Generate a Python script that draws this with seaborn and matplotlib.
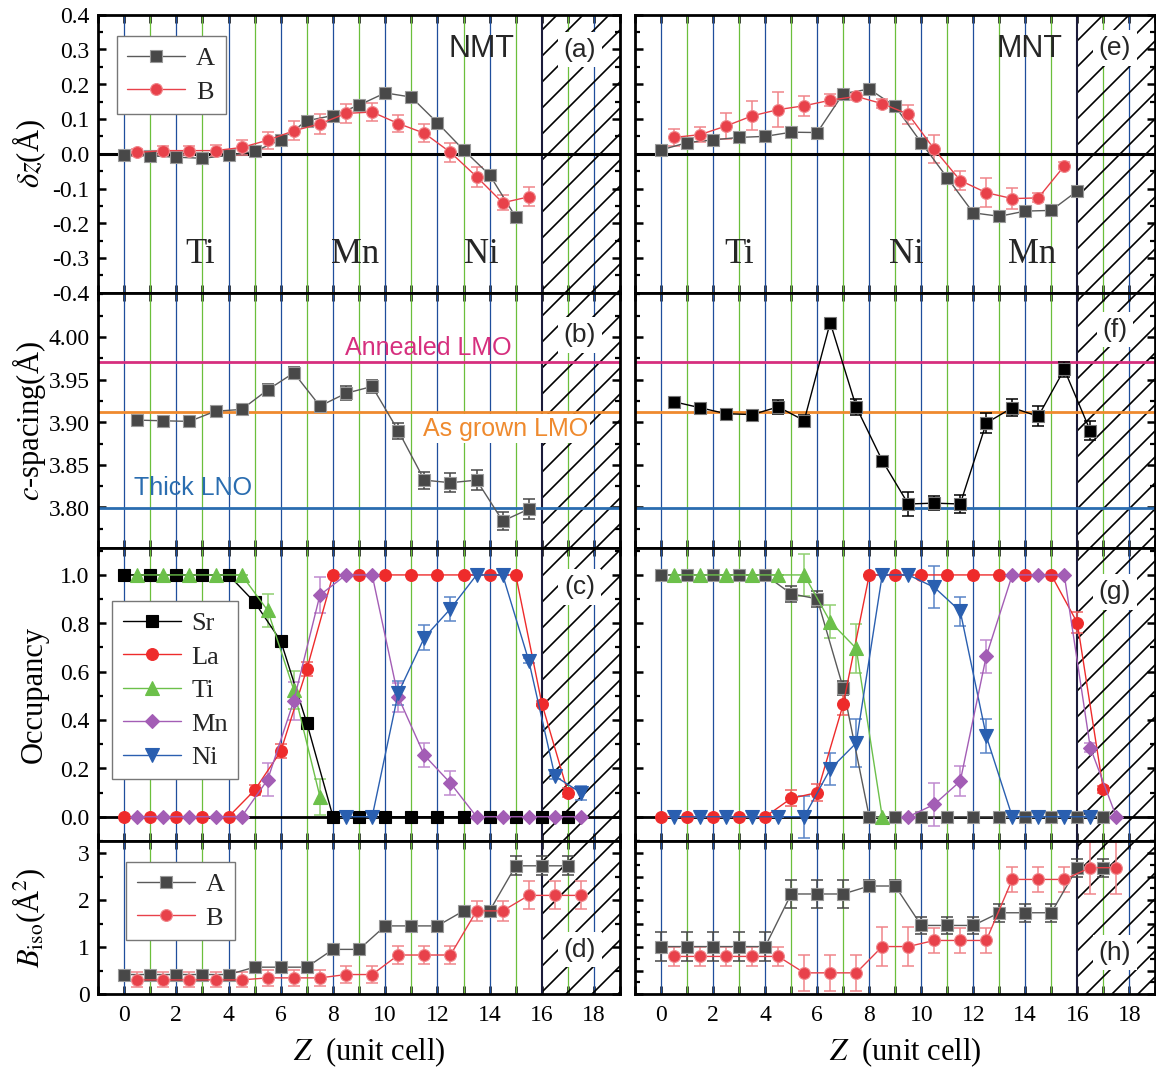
import matplotlib
matplotlib.use("Agg")
import pandas as pd
import seaborn as sns
from matplotlib import pyplot as plt
from matplotlib.ticker import MultipleLocator, FixedLocator, FormatStrFormatter

# ---------------- data ----------------
z_0_15 = [0, 1, 2, 3, 4, 5, 6, 7, 8, 9, 10, 11, 12, 13, 14, 15]
z_0_16 = [0, 1, 2, 3, 4, 5, 6, 7, 8, 9, 10, 11, 12, 13, 14, 15, 16]
z_0_17 = [0, 1, 2, 3, 4, 5, 6, 7, 8, 9, 10, 11, 12, 13, 14, 15, 16, 17]
zh_0_15 = [0.5, 1.5, 2.5, 3.5, 4.5, 5.5, 6.5, 7.5, 8.5, 9.5, 10.5, 11.5, 12.5, 13.5, 14.5, 15.5]
zh_0_16 = [0.5, 1.5, 2.5, 3.5, 4.5, 5.5, 6.5, 7.5, 8.5, 9.5, 10.5, 11.5, 12.5, 13.5, 14.5, 15.5, 16.5]
zh_0_17 = [0.5, 1.5, 2.5, 3.5, 4.5, 5.5, 6.5, 7.5, 8.5, 9.5, 10.5, 11.5, 12.5, 13.5, 14.5, 15.5, 16.5, 17.5]
zh_0_7 = [0.5, 1.5, 2.5, 3.5, 4.5, 5.5, 6.5, 7.5]
zh_0_8 = [0.5, 1.5, 2.5, 3.5, 4.5, 5.5, 6.5, 7.5, 8.5]
zh_8_17 = [8.5, 9.5, 10.5, 11.5, 12.5, 13.5, 14.5, 15.5, 16.5, 17.5]
zh_9_17 = [9.5, 10.5, 11.5, 12.5, 13.5, 14.5, 15.5, 16.5, 17.5]
grid_z = [0, 1, 2, 3, 4, 5, 6, 7, 8, 9, 10, 11, 12, 13, 14, 15, 16, 17, 18]

# (a) NMT delta z
dz_nmt_A = [-0.005, -0.006, -0.010, -0.013, -0.005, 0.007, 0.040, 0.095, 0.110, 0.140,
            0.175, 0.163, 0.089, 0.011, -0.061, -0.182]
dz_nmt_B = [0.004, 0.009, 0.009, 0.009, 0.018, 0.039, 0.066, 0.086, 0.116, 0.120,
            0.087, 0.059, 0.004, -0.066, -0.141, -0.124]
dz_nmt_B_err = [0.010, 0.014, 0.014, 0.015, 0.021, 0.024, 0.027, 0.029, 0.028, 0.026,
                0.024, 0.026, 0.027, 0.029, 0.022, 0.027]
# (e) MNT delta z
dz_mnt_A = [0.011, 0.032, 0.040, 0.047, 0.050, 0.062, 0.061, 0.173, 0.186, 0.136,
            0.032, -0.069, -0.170, -0.180, -0.165, -0.163, -0.107]
dz_mnt_B = [0.047, 0.055, 0.080, 0.109, 0.127, 0.138, 0.154, 0.165, 0.144, 0.114,
            0.013, -0.077, -0.112, -0.129, -0.127, -0.035]
dz_mnt_B_err = [0.024, 0.021, 0.038, 0.042, 0.051, 0.028, 0.018, 0.010, 0.013, 0.027,
                0.041, 0.028, 0.041, 0.030, 0.013, 0.010]

# (b) NMT c-spacing
c_nmt = [3.9025, 3.9017, 3.901, 3.913, 3.915, 3.938, 3.958, 3.919, 3.934, 3.942,
         3.890, 3.832, 3.829, 3.832, 3.784, 3.798]
c_nmt_err = [0.003, 0.003, 0.003, 0.004, 0.005, 0.0065, 0.007, 0.006, 0.008, 0.008,
             0.0095, 0.010, 0.011, 0.012, 0.011, 0.012]
# (f) MNT c-spacing
c_mnt = [3.924, 3.917, 3.910, 3.909, 3.918, 3.902, 4.017, 3.918, 3.855, 3.804,
         3.805, 3.804, 3.899, 3.917, 3.907, 3.962, 3.890]
c_mnt_err = [0.003, 0.003, 0.004, 0.004, 0.008, 0.007, 0.004, 0.009, 0.004, 0.014,
             0.008, 0.011, 0.012, 0.010, 0.012, 0.009, 0.011]
c_annealed_lmo = 3.971
c_grown_lmo = 3.9125
c_thick_lno = 3.7995
c_ticks = [3.80, 3.85, 3.90, 3.95, 4.00]

# (c) NMT occupancy
occ_nmt_Sr = [1, 1, 1, 1, 1, 0.887, 0.727, 0.387, 0, 0, 0, 0, 0, 0, 0, 0, 0, 0]
occ_nmt_La = [0, 0, 0, 0, 0, 0.110, 0.271, 0.611, 1, 1, 1, 1, 1, 1, 1, 1, 0.468, 0.100]
occ_nmt_La_err = [0, 0, 0, 0, 0, 0.02, 0.03, 0.03, 0, 0, 0, 0, 0, 0, 0, 0, 0.01, 0.02]
occ_nmt_Ti = [1, 1, 1, 1, 1, 0.853, 0.524, 0.083]
occ_nmt_Ti_err = [0, 0, 0, 0, 0, 0.067, 0.078, 0.075]
occ_nmt_Mn = [0, 0, 0, 0, 0, 0.154, 0.480, 0.917, 1, 1, 0.495, 0.254, 0.139, 0, 0, 0, 0, 0]
occ_nmt_Mn_err = [0, 0, 0, 0, 0, 0.069, 0.079, 0.076, 0, 0, 0.06, 0.05, 0.05, 0, 0, 0, 0, 0]
occ_nmt_Ni = [0, 0, 0.512, 0.741, 0.860, 1, 1, 0.645, 0.168, 0.099]
occ_nmt_Ni_err = [0, 0, 0.048, 0.051, 0.050, 0, 0, 0.01, 0.01, 0.03]
# (g) MNT occupancy
occ_mnt_Sr = [1, 1, 1, 1, 1, 0.922, 0.901, 0.532, 0, 0, 0, 0, 0, 0, 0, 0, 0, 0]
occ_mnt_Sr_err = [0, 0, 0, 0, 0, 0.033, 0.032, 0.030, 0, 0, 0, 0, 0, 0, 0, 0, 0, 0]
occ_mnt_La = [0, 0, 0, 0, 0, 0.076, 0.100, 0.465, 1, 1, 1, 1, 1, 1, 1, 1, 0.802, 0.113]
occ_mnt_La_err = [0, 0, 0, 0, 0, 0.033, 0.034, 0.043, 0, 0, 0, 0, 0, 0, 0, 0, 0.043, 0.015]
occ_mnt_Ti = [1, 1, 1, 1, 1, 1, 0.807, 0.696, 0]
occ_mnt_Ti_err = [0, 0, 0, 0, 0, 0.086, 0.069, 0.100, 0]
occ_mnt_Ni = [0, 0, 0, 0, 0, 0, 0.197, 0.305, 1, 1, 0.949, 0.850, 0.334, 0, 0, 0, 0]
occ_mnt_Ni_err = [0, 0, 0, 0, 0, 0.086, 0.067, 0.100, 0, 0, 0.086, 0.060, 0.069, 0, 0, 0, 0]
occ_mnt_Mn = [0, 0.051, 0.147, 0.664, 1, 1, 1, 0.286, 0]
occ_mnt_Mn_err = [0, 0.088, 0.062, 0.069, 0, 0, 0, 0.02, 0]

# (d) NMT B_iso
biso_nmt_A = [0.414, 0.414, 0.414, 0.414, 0.414, 0.571, 0.571, 0.571, 0.95, 0.95,
              1.45, 1.45, 1.45, 1.77, 1.77, 2.73, 2.73, 2.73]
biso_nmt_A_err = [0.03, 0.03, 0.03, 0.03, 0.03, 0.04, 0.04, 0.04, 0.05, 0.05,
                  0.05, 0.05, 0.05, 0.06, 0.06, 0.20, 0.20, 0.20]
biso_nmt_B = [0.30, 0.30, 0.30, 0.30, 0.30, 0.343, 0.343, 0.343, 0.414, 0.414,
              0.83, 0.83, 0.83, 1.77, 1.77, 2.10, 2.10, 2.10]
biso_nmt_B_err = [0.16, 0.16, 0.16, 0.16, 0.16, 0.17, 0.17, 0.17, 0.19, 0.19,
                  0.20, 0.20, 0.20, 0.21, 0.21, 0.30, 0.30, 0.30]
# (h) MNT B_iso
biso_mnt_A = [1.01, 1.01, 1.01, 1.01, 1.01, 2.13, 2.13, 2.13, 2.30, 2.30,
              1.46, 1.46, 1.46, 1.73, 1.73, 1.73, 2.69, 2.69]
biso_mnt_A_err = [0.30, 0.30, 0.30, 0.30, 0.30, 0.29, 0.29, 0.29, 0.13, 0.13,
                  0.18, 0.18, 0.18, 0.19, 0.19, 0.19, 0.19, 0.19]
biso_mnt_B = [0.80, 0.80, 0.80, 0.80, 0.80, 0.45, 0.45, 0.45, 1.01, 1.01,
              1.14, 1.14, 1.14, 2.44, 2.44, 2.44, 2.69, 2.69]
biso_mnt_B_err = [0.21, 0.21, 0.21, 0.21, 0.21, 0.39, 0.39, 0.39, 0.42, 0.42,
                  0.26, 0.26, 0.26, 0.26, 0.26, 0.26, 0.55, 0.55]

# ---------------- styling ----------------
GRAY = '#484848'
GRAY_EDGE = '#9a9a9a'
GRAY_LINE = '#5a5a5a'
RED = '#e8414a'
RED_ERR = '#f0858a'
LA_RED = '#ee2b2b'
TI_GREEN = '#6cc04a'
MN_PURPLE = '#a35db5'
NI_BLUE = '#2a5fb0'
V_BLUE = '#1f4e9c'
V_GREEN = '#6bbf3b'
SERIF = ['Liberation Serif', 'DejaVu Serif']
SANS = ['Liberation Sans', 'DejaVu Sans']

# a lower dpi gives a denser '/' hatch; K keeps every size as it was at 100 dpi
DPI = 78
K = 100 / DPI

sns.set_theme(style='ticks')
plt.rcParams.update({
    'font.family': SERIF,
    'mathtext.fontset': 'stix',
    'axes.unicode_minus': False,
    'axes.linewidth': 2.0 * K,
    'axes.edgecolor': 'black',
    'hatch.linewidth': 1.2 * K,
    'hatch.color': 'black',
    'xtick.color': 'black',
    'ytick.color': 'black',
    'axes.labelcolor': 'black',
})

W, H = 1156, 1070
fig = plt.figure(figsize=((W + 0.3) / DPI, (H + 0.3) / DPI), dpi=DPI)


def px_axes(x0, y0, x1, y1):
    return fig.add_axes([x0 / W, 1 - y1 / H, (x1 - x0) / W, (y1 - y0) / H])


def draw(ax, z, vals, errs, marker, face, edge, line, ecol, ms, label=None):
    if errs is not None:
        ax.errorbar(z, vals, yerr=errs, fmt='none', ecolor=ecol, elinewidth=1.1 * K,
                    capsize=4 * K, capthick=1.1 * K, zorder=2.5)
    df = pd.DataFrame({'Z': z, 'v': vals})
    sns.lineplot(data=df, x='Z', y='v', ax=ax, color=line, lw=1.0 * K, marker=marker,
                 markersize=ms * K, markerfacecolor=face, markeredgecolor=edge,
                 markeredgewidth=0.8 * K, sort=False, estimator=None, errorbar=None,
                 label=label, legend=False, zorder=3)


def decorate(ax, ylim, major, minor, left, bottom):
    ax.set_xlim(-1, 19)
    ax.set_ylim(*ylim)
    for z in grid_z:
        if z == 16:
            ax.axvline(z, color='#1b1b3a', lw=1.5 * K, zorder=1.2)
        else:
            ax.axvline(z, color=V_BLUE if z % 2 == 0 else V_GREEN, lw=0.9 * K, zorder=0.8)
    ax.axvspan(16, 19, facecolor='none', edgecolor='black', hatch='/', lw=0, zorder=1)
    ax.xaxis.set_major_locator(MultipleLocator(2))
    ax.xaxis.set_minor_locator(MultipleLocator(1))
    if isinstance(major, list):
        ax.yaxis.set_major_locator(FixedLocator(major))
    else:
        ax.yaxis.set_major_locator(MultipleLocator(major))
    ax.yaxis.set_minor_locator(MultipleLocator(minor))
    ax.tick_params(which='both', direction='in', top=True, right=True,
                   labelsize=17 * K, pad=6 * K)
    ax.tick_params(which='major', length=6 * K, width=1.8 * K)
    ax.tick_params(axis='y', which='minor', length=3.5 * K, width=1.6 * K)
    ax.tick_params(axis='x', which='minor', length=6 * K, width=1.8 * K)
    ax.tick_params(axis='x', pad=8 * K)
    ax.tick_params(labelleft=left, labelbottom=bottom)
    ax.set_xlabel('')
    ax.set_ylabel('')
    if bottom:
        ax.xaxis.set_major_formatter(FormatStrFormatter('%d'))
        ax.set_xlabel(r'$Z$  (unit cell)', fontsize=22 * K)
        ax.xaxis.set_label_coords(0.52, -0.27)
    for s in ax.spines.values():
        s.set_linewidth(2.0 * K)
        s.set_zorder(6)


def panel_tag(ax, y, tag):
    ax.text(17.45, y, tag, ha='center', va='center', fontsize=19 * K, family=SANS,
            zorder=5, bbox=dict(facecolor='white', edgecolor='none',
                                boxstyle='square,pad=0.22'))


def add_legend(ax, anchor):
    handles, labels = ax.get_legend_handles_labels()
    leg = ax.legend(handles, labels, loc='upper left', bbox_to_anchor=anchor,
                    borderaxespad=0, fontsize=19 * K, handlelength=2.2, handletextpad=0.4,
                    labelspacing=0.38, borderpad=0.4, fancybox=False, framealpha=1,
                    edgecolor='#777777', numpoints=1)
    leg.get_frame().set_linewidth(1.0 * K)
    leg.set_zorder(7)


cols = [(98, 620), (635, 1155)]
rows = [(15, 293), (293, 548), (548, 841), (841, 994)]
axs = [[px_axes(c[0], r[0], c[1], r[1]) for c in cols] for r in rows]

# ---- (a) / (e) ----
for j, (ax, vA, zA, vB, eB) in enumerate([
        (axs[0][0], dz_nmt_A, z_0_15, dz_nmt_B, dz_nmt_B_err),
        (axs[0][1], dz_mnt_A, z_0_16, dz_mnt_B, dz_mnt_B_err)]):
    ax.axhline(0, color='black', lw=2.2 * K, zorder=1.5)
    draw(ax, zA, vA, None, 's', GRAY, GRAY_EDGE, GRAY_LINE, GRAY, 8.5, 'A')
    draw(ax, zh_0_15, vB, eB, 'o', RED, RED_ERR, RED, RED_ERR, 8.5, 'B')
    decorate(ax, (-0.4, 0.4), 0.1, 0.05, j == 0, False)
    ax.yaxis.set_major_formatter(FormatStrFormatter('%.1f'))

ax = axs[0][0]
add_legend(ax, (0.036, 0.924))
ax.set_ylabel(r'$\delta z$(Å)', fontsize=22 * K)
for txt, zx in [('Ti', 2.9), ('Mn', 8.85), ('Ni', 13.7)]:
    ax.text(zx, -0.288, txt, ha='center', va='center', fontsize=25 * K, zorder=4)
ax.text(13.7, 0.302, 'NMT', ha='center', va='center', fontsize=22 * K, family=SANS, zorder=4)
panel_tag(ax, 0.30, '(a)')

ax = axs[0][1]
for txt, zx in [('Ti', 3.0), ('Ni', 9.42), ('Mn', 14.28)]:
    ax.text(zx, -0.288, txt, ha='center', va='center', fontsize=25 * K, zorder=4)
ax.text(14.18, 0.302, 'MNT', ha='center', va='center', fontsize=22 * K, family=SANS, zorder=4)
panel_tag(ax, 0.305, '(e)')

# ---- (b) / (f) ----
for ax in [axs[1][0], axs[1][1]]:
    ax.axhline(c_annealed_lmo, color='#d62f7e', lw=2.0 * K, zorder=1.5)
    ax.axhline(c_grown_lmo, color='#ef8a2e', lw=2.0 * K, zorder=1.5)
    ax.axhline(c_thick_lno, color='#2a6db0', lw=2.0 * K, zorder=1.5)
draw(axs[1][0], zh_0_15, c_nmt, c_nmt_err, 's', GRAY, GRAY_EDGE, GRAY_LINE, GRAY, 8.5)
draw(axs[1][1], zh_0_16, c_mnt, c_mnt_err, 's', 'black', '#777777', 'black', 'black', 8.5)
for j, ax in enumerate([axs[1][0], axs[1][1]]):
    decorate(ax, (3.7525, 4.052), c_ticks, 0.025, j == 0, False)
    ax.yaxis.set_major_formatter(FormatStrFormatter('%.2f'))
ax = axs[1][0]
ax.set_ylabel(r'$c$-spacing(Å)', fontsize=22 * K)
ax.text(11.65, 3.988, 'Annealed LMO', ha='center', va='center', fontsize=18 * K,
        family=SANS, color='#d62f7e', zorder=4)
ax.text(14.6, 3.8924, 'As grown LMO', ha='center', va='center', fontsize=18 * K,
        family=SANS, color='#ef8a2e', zorder=4,
        bbox=dict(facecolor='white', edgecolor='none', boxstyle='square,pad=0.1'))
ax.text(2.64, 3.823, 'Thick LNO', ha='center', va='center', fontsize=18 * K,
        family=SANS, color='#2a6db0', zorder=4)
panel_tag(ax, 4.0026, '(b)')
panel_tag(axs[1][1], 4.009, '(f)')

# ---- (c) / (g) ----
ax = axs[2][0]
ax.axhline(0, color='black', lw=2.0 * K, zorder=1.5)
draw(ax, z_0_17, occ_nmt_Sr, None, 's', 'black', 'black', 'black', 'black', 8.5, 'Sr')
draw(ax, z_0_17, occ_nmt_La, occ_nmt_La_err, 'o', LA_RED, LA_RED, LA_RED, '#f06060', 8.5, 'La')
draw(ax, zh_0_7, occ_nmt_Ti, occ_nmt_Ti_err, '^', TI_GREEN, TI_GREEN, TI_GREEN, '#8fd070', 9.5, 'Ti')
draw(ax, zh_0_17, occ_nmt_Mn, occ_nmt_Mn_err, 'D', MN_PURPLE, MN_PURPLE, MN_PURPLE, '#c08ad0', 7, 'Mn')
draw(ax, zh_8_17, occ_nmt_Ni, occ_nmt_Ni_err, 'v', NI_BLUE, NI_BLUE, NI_BLUE, '#5a85c8', 9.5, 'Ni')
decorate(ax, (-0.1, 1.112), 0.2, 0.1, True, False)
ax.yaxis.set_major_formatter(FormatStrFormatter('%.1f'))
add_legend(ax, (0.027, 0.819))
ax.set_ylabel('Occupancy', fontsize=22 * K)
panel_tag(ax, 0.95, '(c)')

ax = axs[2][1]
ax.axhline(0, color='black', lw=2.0 * K, zorder=1.5)
draw(ax, z_0_17, occ_mnt_Sr, occ_mnt_Sr_err, 's', GRAY, GRAY_EDGE, GRAY_LINE, GRAY, 8.5)
draw(ax, z_0_17, occ_mnt_La, occ_mnt_La_err, 'o', LA_RED, LA_RED, LA_RED, '#f06060', 8.5)
draw(ax, zh_0_8, occ_mnt_Ti, occ_mnt_Ti_err, '^', TI_GREEN, TI_GREEN, TI_GREEN, '#8fd070', 9.5)
draw(ax, zh_0_16, occ_mnt_Ni, occ_mnt_Ni_err, 'v', NI_BLUE, NI_BLUE, NI_BLUE, '#5a85c8', 9.5)
draw(ax, zh_9_17, occ_mnt_Mn, occ_mnt_Mn_err, 'D', MN_PURPLE, MN_PURPLE, MN_PURPLE, '#c08ad0', 7)
decorate(ax, (-0.1, 1.112), 0.2, 0.1, False, False)
panel_tag(ax, 0.93, '(g)')

# ---- (d) / (h) ----
ax = axs[3][0]
draw(ax, z_0_17, biso_nmt_A, biso_nmt_A_err, 's', GRAY, GRAY_EDGE, GRAY_LINE, GRAY, 8.5, 'A')
draw(ax, zh_0_17, biso_nmt_B, biso_nmt_B_err, 'o', RED, RED_ERR, RED, RED_ERR, 8.5, 'B')
decorate(ax, (0, 3.26), 1, 0.5, True, True)
ax.yaxis.set_major_formatter(FormatStrFormatter('%d'))
add_legend(ax, (0.054, 0.863))
ax.set_ylabel(r'$B_{\rm iso}$(Å$^2$)', fontsize=22 * K)
panel_tag(ax, 0.95, '(d)')

ax = axs[3][1]
draw(ax, z_0_17, biso_mnt_A, biso_mnt_A_err, 's', GRAY, GRAY_EDGE, GRAY_LINE, GRAY, 8.5)
draw(ax, zh_0_17, biso_mnt_B, biso_mnt_B_err, 'o', RED, RED_ERR, RED, RED_ERR, 8.5)
decorate(ax, (0, 3.26), 0.5, 0.25, False, True)
panel_tag(ax, 0.88, '(h)')

for row in axs:
    row[0].yaxis.set_label_coords(-0.095, 0.5)

fig.savefig('out.png', dpi=DPI)
